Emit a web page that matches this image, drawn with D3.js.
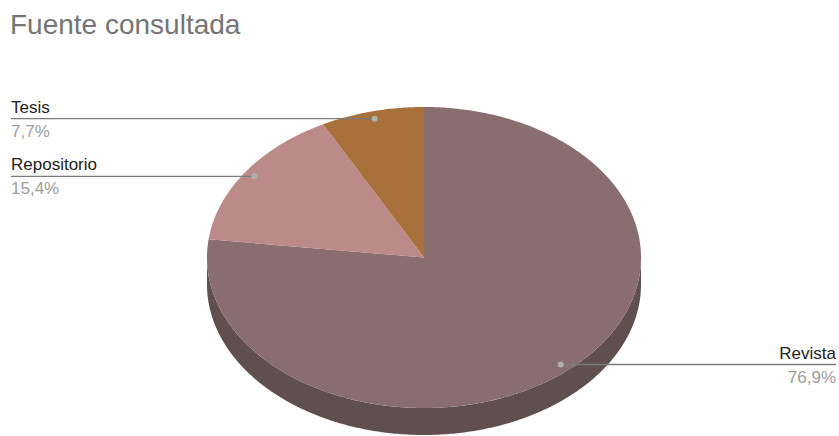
<!DOCTYPE html>
<html>
<head>
<meta charset="utf-8">
<script src="https://cdn.jsdelivr.net/npm/d3@7"></script>
<style>
  body { margin: 0; background: #fff; }
  svg { display: block; font-family: "Liberation Sans", Arial, sans-serif; }
</style>
</head>
<body>
<div id="chart"></div>
<script>
// data
var categories = ["Revista", "Repositorio", "Tesis"];
var values = [10, 2, 1];
var colors = ["#8a6d6f", "#bb8a89", "#a8703a"];
var sideColors = ["#5f4f4e", "#86625f", "#7a5128"];
var labelSide = ["right", "left", "left"];

var w = 839, h = 436;
var cx = 424, cy = 257.5;
var rx = 217, ry = 150.5;
var depth = 27;

var svg = d3.select("#chart").append("svg")
    .attr("width", w)
    .attr("height", h);

svg.append("text")
    .attr("x", 10)
    .attr("y", 34)
    .attr("font-size", 28)
    .attr("fill", "#757575")
    .text("Fuente consultada");

var pie = d3.pie().sort(null);
var arcs = pie(values);
var total = d3.sum(values);

function pt(a, r, dy) {
    return [cx + rx * r * Math.sin(a), cy - ry * r * Math.cos(a) + (dy || 0)];
}

function arcPoints(a0, a1, r, dy) {
    var n = Math.max(2, Math.ceil((a1 - a0) / 0.01));
    return d3.range(n + 1).map(function (i) { return pt(a0 + (a1 - a0) * i / n, r, dy); });
}

var line = d3.line();

// sides (only front half is visible)
arcs.forEach(function (d, i) {
    var a0 = Math.max(d.startAngle, Math.PI / 2);
    var a1 = Math.min(d.endAngle, Math.PI * 1.5);
    if (a1 <= a0) return;
    var top = arcPoints(a0, a1, 1, 0);
    var bottom = arcPoints(a0, a1, 1, depth).reverse();
    svg.append("path")
        .attr("d", line(top.concat(bottom)) + "Z")
        .attr("fill", sideColors[i]);
});

// top faces
svg.selectAll("path.slice")
    .data(arcs)
    .enter()
    .append("path")
    .attr("class", "slice")
    .attr("d", function (d) {
        return line([[cx, cy]].concat(arcPoints(d.startAngle, d.endAngle, 1, 0))) + "Z";
    })
    .attr("fill", function (d, i) { return colors[i]; });

// labels
var fmt = function (v) { return d3.format(".1f")(v * 100).replace(".", ",") + "%"; };

arcs.forEach(function (d, i) {
    var mid = (d.startAngle + d.endAngle) / 2;
    var p = pt(mid, 0.95, 0);
    var right = labelSide[i] === "right";
    var xEnd = right ? 836 : 11;
    svg.append("line")
        .attr("x1", p[0]).attr("y1", p[1])
        .attr("x2", xEnd).attr("y2", p[1])
        .attr("stroke", "#7b7b7b")
        .attr("stroke-width", 1.3);
    svg.append("circle")
        .attr("cx", p[0]).attr("cy", p[1])
        .attr("r", 3)
        .attr("fill", "#b0b0b0");
    svg.append("text")
        .attr("x", xEnd)
        .attr("y", p[1] - 6)
        .attr("text-anchor", right ? "end" : "start")
        .attr("font-size", 17)
        .attr("fill", "#222")
        .text(categories[i]);
    svg.append("text")
        .attr("x", xEnd)
        .attr("y", p[1] + 18)
        .attr("text-anchor", right ? "end" : "start")
        .attr("font-size", 17)
        .attr("fill", "#9e9e9e")
        .text(fmt(d.value / total));
});
</script>
</body>
</html>
